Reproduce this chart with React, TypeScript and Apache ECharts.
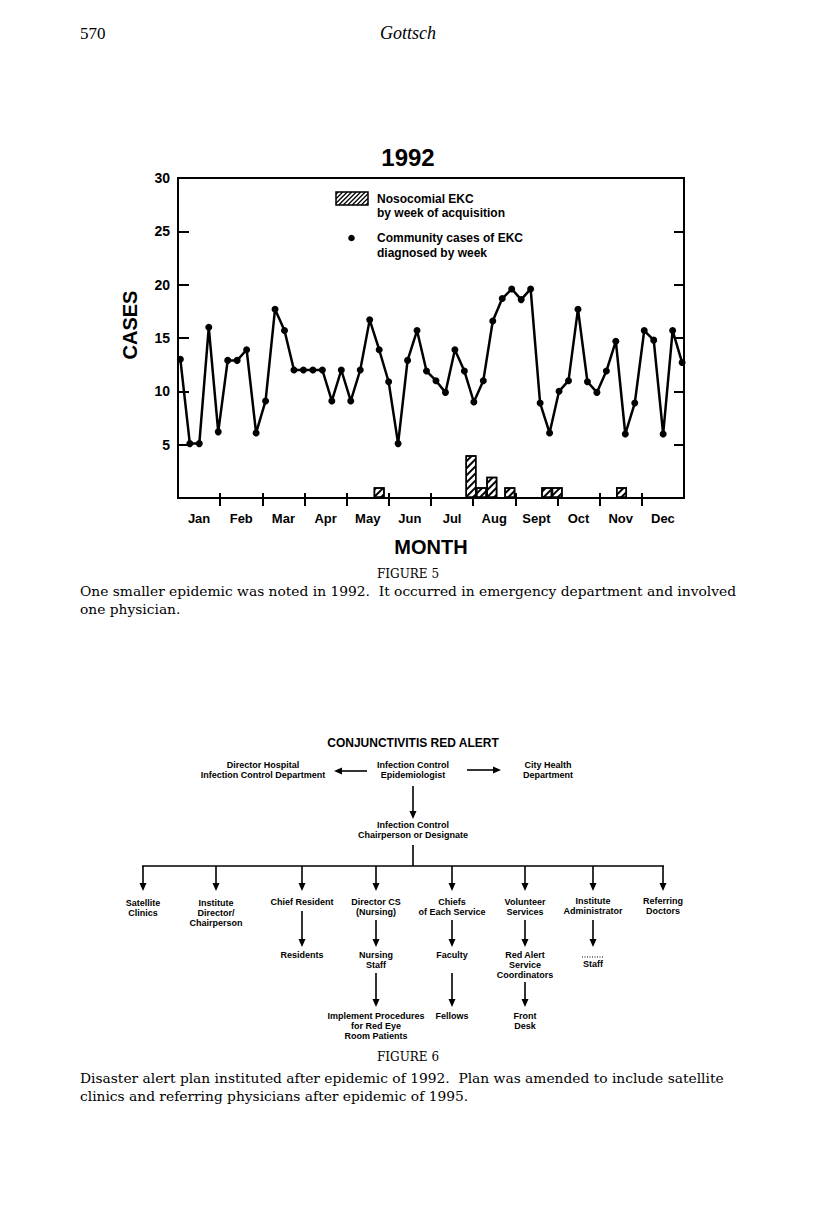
import React, { useEffect, useRef } from "react";
import * as echarts from "echarts";

// ---------- Chart data (Figure 5) ----------
const months = ["Jan", "Feb", "Mar", "Apr", "May", "Jun", "Jul", "Aug", "Sept", "Oct", "Nov", "Dec"];
const monthTickValues = [1, 2, 3, 4, 5, 6, 7, 8, 9, 10, 11];
const monthLabelValues = [0.5, 1.5, 2.5, 3.5, 4.5, 5.5, 6.5, 7.5, 8.5, 9.5, 10.5, 11.5];
// Community cases of EKC diagnosed by week (one point per week)
const communityCases = [
  13.0, 5.1, 5.1, 16.0, 6.2, 12.9, 12.9, 13.9, 6.1, 9.1,
  17.7, 15.7, 12.0, 12.0, 12.0, 12.0, 9.1, 12.0, 9.1, 12.0,
  16.7, 13.9, 10.9, 5.1, 12.9, 15.7, 11.9, 11.0, 9.9, 13.9,
  11.9, 9.0, 11.0, 16.6, 18.7, 19.6, 18.6, 19.6, 8.9, 6.1,
  10.0, 11.0, 17.7, 10.9, 9.9, 11.9, 14.7, 6.0, 8.9, 15.7,
  14.8, 6.0, 15.7, 12.7,
];
// Nosocomial EKC by week of acquisition
const nosocomialWeeks = [21.0, 30.7, 31.8, 32.9, 34.8, 38.7, 39.8, 46.6];
const nosocomialCases = [1, 4, 1, 2, 1, 1, 1, 1];

// ---------- Flowchart content (Figure 6) ----------
const fcTitle = "CONJUNCTIVITIS RED ALERT";
const fcNodes = [
  { lines: ["Director Hospital", "Infection Control Department"], x: 263, y: 765 },
  { lines: ["Infection Control", "Epidemiologist"], x: 413, y: 765 },
  { lines: ["City Health", "Department"], x: 548, y: 765 },
  { lines: ["Infection Control", "Chairperson or Designate"], x: 413, y: 825 },
  { lines: ["Satellite", "Clinics"], x: 143, y: 903 },
  { lines: ["Institute", "Director/", "Chairperson"], x: 216, y: 903 },
  { lines: ["Chief Resident"], x: 302, y: 902 },
  { lines: ["Director CS", "(Nursing)"], x: 376, y: 902 },
  { lines: ["Chiefs", "of Each Service"], x: 452, y: 902 },
  { lines: ["Volunteer", "Services"], x: 525, y: 902 },
  { lines: ["Institute", "Administrator"], x: 593, y: 901 },
  { lines: ["Referring", "Doctors"], x: 663, y: 901 },
  { lines: ["Residents"], x: 302, y: 955 },
  { lines: ["Nursing", "Staff"], x: 376, y: 955 },
  { lines: ["Faculty"], x: 452, y: 955 },
  { lines: ["Red Alert", "Service", "Coordinators"], x: 525, y: 955 },
  { lines: ["Staff"], x: 593, y: 964 },
  { lines: ["Implement Procedures", "for Red Eye", "Room Patients"], x: 376, y: 1016 },
  { lines: ["Fellows"], x: 452, y: 1016 },
  { lines: ["Front", "Desk"], x: 525, y: 1016 },
];
const fcArrows = [
  [367, 771, 334, 771],
  [467, 770, 501, 770],
  [413, 786, 413, 819],
  [143, 866, 143, 891],
  [216, 866, 216, 891],
  [302, 866, 302, 891],
  [376, 866, 376, 891],
  [452, 866, 452, 891],
  [525, 866, 525, 891],
  [593, 866, 593, 891],
  [663, 866, 663, 891],
  [302, 911, 302, 947],
  [376, 920, 376, 947],
  [452, 920, 452, 947],
  [525, 920, 525, 947],
  [593, 920, 593, 947],
  [376, 973, 376, 1007],
  [452, 973, 452, 1007],
  [525, 982, 525, 1007],
];
const fcLines = [
  [413, 845, 413, 866],
  [142, 866, 664, 866],
];

const SANS = '"Liberation Sans", Arial, Helvetica, sans-serif';
const SERIF = '"Liberation Serif", "Times New Roman", serif';
const BODY_SERIF = '"DejaVu Serif", "Liberation Serif", serif';

function arrow(x1: number, y1: number, x2: number, y2: number) {
  const dx = x2 - x1;
  const dy = y2 - y1;
  const len = Math.sqrt(dx * dx + dy * dy);
  const ux = dx / len;
  const uy = dy / len;
  const hl = 8;
  const hw = 3.5;
  const bx = x2 - ux * hl;
  const by = y2 - uy * hl;
  return [
    { type: "line", shape: { x1, y1, x2: bx, y2: by }, style: { stroke: "#000", lineWidth: 1.6 } },
    {
      type: "polygon",
      shape: {
        points: [
          [x2, y2],
          [bx - uy * hw, by + ux * hw],
          [bx + uy * hw, by - ux * hw],
        ],
      },
      style: { fill: "#000" },
    },
  ];
}

function hatchRect(x: number, y: number, w: number, h: number, gap: number) {
  const els: any[] = [
    { type: "rect", shape: { x, y, width: w, height: h }, style: { fill: "#fff", stroke: "#000", lineWidth: 1.5 } },
  ];
  for (let t = -h + gap / 2; t < w; t += gap) {
    const s0 = Math.max(0, -t);
    const s1 = Math.min(h, w - t);
    if (s1 <= s0) continue;
    els.push({
      type: "line",
      shape: { x1: x + t + s0, y1: y + h - s0, x2: x + t + s1, y2: y + h - s1 },
      style: { stroke: "#000", lineWidth: 1.3 },
    });
  }
  return els;
}

function text(x: number, y: number, s: string, font: string, align = "center", extra: any = {}) {
  return {
    type: "text",
    x,
    y,
    style: { text: s, font, fill: "#000", textAlign: align, textVerticalAlign: "middle", ...extra },
  };
}

export default function App() {
  const ref = useRef<HTMLDivElement>(null);

  useEffect(() => {
    if (!ref.current) return;
    const chart = echarts.init(ref.current, undefined, { renderer: "svg" });

    const fcFont = `bold 9px ${SANS}`;
    const capFont = `13.8px ${BODY_SERIF}`;
    const graphics: any[] = [
      // page header
      text(80, 33, "570", `17px ${SERIF}`, "left"),
      text(408, 33, "Gottsch", `italic 18px ${SERIF}`, "center"),
      // chart title and axis names
      text(408, 157, "1992", `bold 24px ${SANS}`),
      {
        type: "text",
        x: 130,
        y: 325,
        rotation: Math.PI / 2,
        style: { text: "CASES", font: `bold 20px ${SANS}`, fill: "#000", textAlign: "center", textVerticalAlign: "middle" },
      },
      text(431, 547, "MONTH", `bold 20px ${SANS}`),
      // legend
      ...hatchRect(336, 192, 32, 13, 4.5),
      text(377, 199, "Nosocomial EKC", `bold 12px ${SANS}`, "left"),
      text(377, 213, "by week of acquisition", `bold 12px ${SANS}`, "left"),
      { type: "circle", shape: { cx: 351.5, cy: 238, r: 3.3 }, style: { fill: "#000" } },
      text(377, 238, "Community cases of EKC", `bold 12px ${SANS}`, "left"),
      text(377, 253, "diagnosed by week", `bold 12px ${SANS}`, "left"),
      // figure 5 caption
      text(408, 574, "FIGURE 5", `12px ${BODY_SERIF}`),
      text(80, 591, "One smaller epidemic was noted in 1992.  It occurred in emergency department and involved", capFont, "left"),
      text(80, 609, "one physician.", capFont, "left"),
      // flowchart
      text(413, 743, fcTitle, `bold 12px ${SANS}`),
      ...fcNodes.map((n) => ({
        type: "text",
        x: n.x,
        y: n.y - 5,
        style: {
          text: n.lines.join("\n"),
          font: fcFont,
          fill: "#000",
          textAlign: "center",
          textVerticalAlign: "top",
          lineHeight: 10,
        },
      })),
      ...fcLines.map(([x1, y1, x2, y2]) => ({
        type: "line",
        shape: { x1, y1, x2, y2 },
        style: { stroke: "#000", lineWidth: 1.6 },
      })),
      ...fcArrows.flatMap(([x1, y1, x2, y2]) => arrow(x1, y1, x2, y2)),
      {
        type: "line",
        shape: { x1: 582, y1: 957, x2: 604, y2: 957 },
        style: { stroke: "#000", lineWidth: 1, lineDash: [1, 1.5] },
      },
      // figure 6 caption
      text(408, 1057, "FIGURE 6", `12px ${BODY_SERIF}`),
      text(80, 1078, "Disaster alert plan instituted after epidemic of 1992.  Plan was amended to include satellite", capFont, "left"),
      text(80, 1096, "clinics and referring physicians after epidemic of 1995.", capFont, "left"),
    ];

    const axisFont = { color: "#000", fontFamily: SANS, fontWeight: "bold", fontSize: 13 };

    chart.setOption({
      animation: false,
      backgroundColor: "#fff",
      grid: {
        left: 178,
        top: 178,
        width: 506,
        height: 320,
        show: true,
        borderColor: "#000",
        borderWidth: 2,
        backgroundColor: "transparent",
      },
      xAxis: [
        { type: "value", min: -0.25, max: 53.2, show: false },
        {
          type: "value",
          min: 0,
          max: 12,
          position: "bottom",
          axisLine: { show: true, onZero: false, lineStyle: { color: "#000", width: 2 } },
          axisTick: { show: true, inside: false, length: 8, lineStyle: { color: "#000", width: 2 }, customValues: monthTickValues },
          axisLabel: {
            ...axisFont,
            margin: 14,
            customValues: monthLabelValues,
            formatter: (v: number) => months[Math.floor(v)] ?? "",
          },
          splitLine: { show: false },
        },
        {
          type: "value",
          min: 0,
          max: 12,
          position: "bottom",
          axisLine: { show: false, onZero: false },
          axisTick: { show: true, inside: true, length: 5, lineStyle: { color: "#000", width: 2 }, customValues: monthTickValues },
          axisLabel: { show: false },
          splitLine: { show: false },
        },
      ],
      yAxis: [
        {
          type: "value",
          min: 0,
          max: 30,
          interval: 5,
          axisLine: { show: true, onZero: false, lineStyle: { color: "#000", width: 2 } },
          axisTick: { show: true, inside: true, length: 11, lineStyle: { color: "#000", width: 2 } },
          axisLabel: { ...axisFont, fontSize: 14, margin: 8, formatter: (v: number) => (v === 0 ? "" : String(v)) },
          splitLine: { show: false },
        },
        {
          type: "value",
          min: 0,
          max: 30,
          interval: 5,
          position: "right",
          axisLine: { show: true, onZero: false, lineStyle: { color: "#000", width: 2 } },
          axisTick: { show: true, inside: true, length: 10, lineStyle: { color: "#000", width: 2 } },
          axisLabel: { show: false },
          splitLine: { show: false },
        },
      ],
      series: [
        {
          name: "Nosocomial EKC by week of acquisition",
          type: "bar",
          xAxisIndex: 0,
          yAxisIndex: 0,
          barWidth: 11,
          data: nosocomialWeeks.map((w, i) => [w, nosocomialCases[i]]),
          itemStyle: {
            color: "#fff",
            borderColor: "#000",
            borderWidth: 1.5,
            decal: {
              symbol: "rect",
              symbolSize: 1,
              color: "#000",
              backgroundColor: "#fff",
              dashArrayX: [1, 0],
              dashArrayY: [1.3, 3],
              rotation: -Math.PI / 4,
            },
          },
        },
        {
          name: "Community cases of EKC diagnosed by week",
          type: "line",
          xAxisIndex: 0,
          yAxisIndex: 0,
          data: communityCases.map((v, i) => [i, v]),
          symbol: "circle",
          symbolSize: 7,
          lineStyle: { color: "#000", width: 2.5 },
          itemStyle: { color: "#000" },
        },
      ],
      graphic: graphics,
    });

    return () => chart.dispose();
  }, []);

  return <div ref={ref} style={{ position: "absolute", left: 0, top: 0, width: 816, height: 1224 }} />;
}
